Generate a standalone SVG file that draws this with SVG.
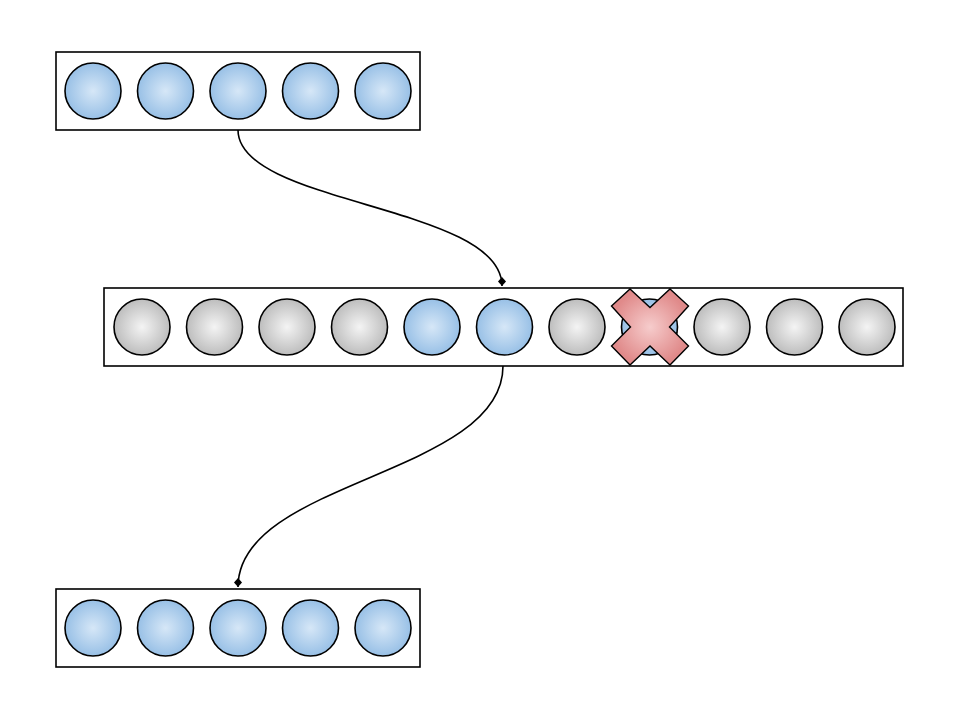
<svg xmlns="http://www.w3.org/2000/svg" width="960" height="720" viewBox="0 0 960 720">
<defs>
<radialGradient id="gb" cx="0.5" cy="0.5" r="0.5"><stop offset="0" stop-color="#d6e7f7"/><stop offset="1" stop-color="#98c0e6"/></radialGradient>
<radialGradient id="gg" cx="0.5" cy="0.5" r="0.5"><stop offset="0" stop-color="#f4f4f4"/><stop offset="1" stop-color="#bdbdbd"/></radialGradient>
<radialGradient id="gr" cx="0.5" cy="0.5" r="0.5"><stop offset="0" stop-color="#f6cccc"/><stop offset="1" stop-color="#e08a8a"/></radialGradient>
<marker id="dia" markerWidth="12" markerHeight="10" refX="9" refY="5" orient="auto" markerUnits="userSpaceOnUse"><path d="M0,5 L4.5,1 L9,5 L4.5,9 Z" fill="#000"/></marker>
<style>
.box{fill:#fff;stroke:#000;stroke-width:1.6}
.b{fill:url(#gb);stroke:#000;stroke-width:1.6}
.g{fill:url(#gg);stroke:#000;stroke-width:1.6}
.x{fill:url(#gr);stroke:#000;stroke-width:1.4;stroke-linejoin:miter}
.c{fill:none;stroke:#000;stroke-width:1.6}
</style>
</defs>
<g id="top">
<rect class="box" x="56" y="52" width="364" height="78"/>
<circle class="b" cx="93" cy="91" r="28"/>
<circle class="b" cx="165.5" cy="91" r="28"/>
<circle class="b" cx="238" cy="91" r="28"/>
<circle class="b" cx="310.5" cy="91" r="28"/>
<circle class="b" cx="383" cy="91" r="28"/>
</g>
<g id="middle">
<rect class="box" x="104" y="288" width="799" height="78"/>
<circle class="g" cx="142" cy="327" r="28"/>
<circle class="g" cx="214.5" cy="327" r="28"/>
<circle class="g" cx="287" cy="327" r="28"/>
<circle class="g" cx="359.5" cy="327" r="28"/>
<circle class="b" cx="432" cy="327" r="28"/>
<circle class="b" cx="504.5" cy="327" r="28"/>
<circle class="g" cx="577" cy="327" r="28"/>
<circle class="b" cx="649.5" cy="327" r="28"/>
<circle class="g" cx="722" cy="327" r="28"/>
<circle class="g" cx="794.5" cy="327" r="28"/>
<circle class="g" cx="867" cy="327" r="28"/>
</g>
<g id="cross">
<polygon class="x" points="611.5,306 630,289 650,307.5 670,289 688.5,306 669.5,327 688.5,346 670,365 650,346 630,365 611.5,346 630.5,327"/>
</g>
<g id="bottom">
<rect class="box" x="56" y="589" width="364" height="78"/>
<circle class="b" cx="93" cy="628" r="28"/>
<circle class="b" cx="165.5" cy="628" r="28"/>
<circle class="b" cx="238" cy="628" r="28"/>
<circle class="b" cx="310.5" cy="628" r="28"/>
<circle class="b" cx="383" cy="628" r="28"/>
</g>
<g id="connectors">
<path class="c" d="M238,130 C238,205 502,205 502,286" marker-end="url(#dia)"/>
<path class="c" d="M503,366 C503,475 238,480 238,587" marker-end="url(#dia)"/>
</g>
</svg>
